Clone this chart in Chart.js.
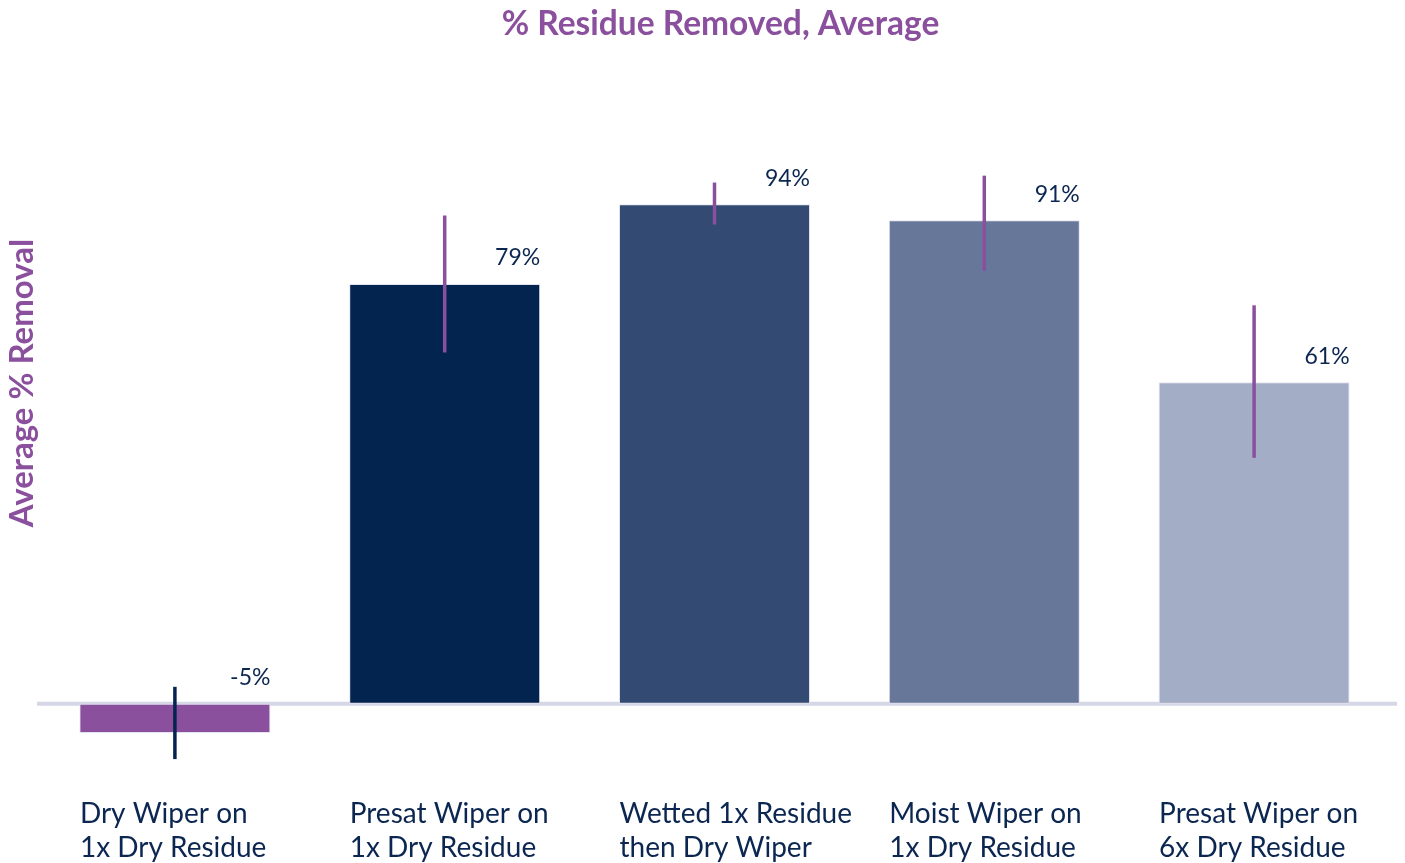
<!DOCTYPE html>
<html>
<head>
<meta charset="utf-8">
<script src="https://cdn.jsdelivr.net/npm/chart.js@4"></script>
<style>
  html, body { margin: 0; padding: 0; background: #fff; }
  #wrap { width: 1405px; height: 863px; }
</style>
</head>
<body>
<div id="wrap"><canvas id="chart"></canvas></div>
<script>
/* ── Data ── */
const categories = [
  ['Dry Wiper on', '1x Dry Residue'],
  ['Presat Wiper on', '1x Dry Residue'],
  ['Wetted 1x Residue', 'then Dry Wiper'],
  ['Moist Wiper on', '1x Dry Residue'],
  ['Presat Wiper on', '6x Dry Residue']
];
const avgRemoval = [-5.5, 79, 94, 91, 60.5];
const errLow  = [-10.4, 66.1, 90.2, 81.5, 46.3];
const errHigh = [3.2, 91.9, 98.1, 99.4, 75.0];
const barColors = ['#8a4f9d', '#03244f', '#334a72', '#66779a', '#a3adc5'];
const errColors = ['#03244f', '#8a4f9d', '#8a4f9d', '#8a4f9d', '#8a4f9d'];
const yTitle = 'Average % Removal';

const PURPLE = '#8a4f9d';
const NAVY = '#0b2650';

/* ── Zero line, error bars, value labels, y title ── */
const extras = {
  id: 'extras',
  afterLayout(chart) {
    // the title sits slightly right of centre in the original
    chart.titleBlock.left += 6;
    chart.titleBlock.right += 6;
  },
  beforeDatasetsDraw(chart) {
    const { ctx, chartArea, scales: { y } } = chart;
    const y0 = y.getPixelForValue(0);
    ctx.save();
    ctx.strokeStyle = '#d6d7e6';
    ctx.lineWidth = 4;
    ctx.beginPath();
    ctx.moveTo(chartArea.left - 3, y0);
    ctx.lineTo(chartArea.right + 8, y0);
    ctx.stroke();
    ctx.restore();
  },
  afterDatasetsDraw(chart) {
    const { ctx, scales: { y } } = chart;
    const meta = chart.getDatasetMeta(0);
    ctx.save();
    meta.data.forEach((bar, i) => {
      ctx.strokeStyle = errColors[i];
      ctx.lineWidth = 3.5;
      ctx.beginPath();
      ctx.moveTo(bar.x, y.getPixelForValue(errLow[i]));
      ctx.lineTo(bar.x, y.getPixelForValue(errHigh[i]));
      ctx.stroke();

      const top = y.getPixelForValue(Math.max(avgRemoval[i], 0));
      ctx.fillStyle = NAVY;
      ctx.font = '23px Lato';
      ctx.textAlign = 'right';
      ctx.textBaseline = 'middle';
      ctx.fillText(Math.round(avgRemoval[i]) + '%', bar.x + bar.width / 2, top - 26);
    });

    // rotated axis title
    ctx.translate(22, 383);
    ctx.rotate(-Math.PI / 2);
    ctx.fillStyle = PURPLE;
    ctx.font = 'bold 33px Lato';
    ctx.textAlign = 'center';
    ctx.textBaseline = 'middle';
    ctx.fillText(yTitle, 0, 0);
    ctx.restore();
  }
};

new Chart(document.getElementById('chart'), {
  type: 'bar',
  data: {
    labels: categories,
    datasets: [{
      data: avgRemoval,
      backgroundColor: barColors,
      borderColor: '#e2e3ee',
      borderWidth: 1,
      borderSkipped: false,
      barPercentage: 0.708,
      categoryPercentage: 1
    }]
  },
  options: {
    responsive: true,
    maintainAspectRatio: false,
    animation: false,
    layout: { padding: { left: 40, right: 16, top: 0, bottom: -9 } },
    plugins: {
      legend: { display: false },
      tooltip: { enabled: false },
      title: {
        display: true,
        text: '% Residue Removed, Average',
        color: PURPLE,
        font: { family: 'Lato', size: 33.5, weight: 'bold', lineHeight: 1.2 },
        padding: { top: 4, bottom: 22 }
      }
    },
    scales: {
      x: {
        grid: { display: false, drawTicks: false },
        border: { display: false },
        afterFit(scale) {
          // no extra room for the long outer labels
          scale.paddingLeft = 0;
          scale.paddingRight = 0;
        },
        ticks: {
          color: NAVY,
          align: 'start',
          labelOffset: -95,
          padding: 8,
          maxRotation: 0,
          autoSkip: false,
          font: { family: 'Lato', size: 28, lineHeight: 1.18 }
        }
      },
      y: {
        min: -16.2,
        max: 120,
        grid: { display: false, drawTicks: false },
        border: { display: false },
        ticks: { display: false }
      }
    }
  },
  plugins: [extras]
});
</script>
</body>
</html>
